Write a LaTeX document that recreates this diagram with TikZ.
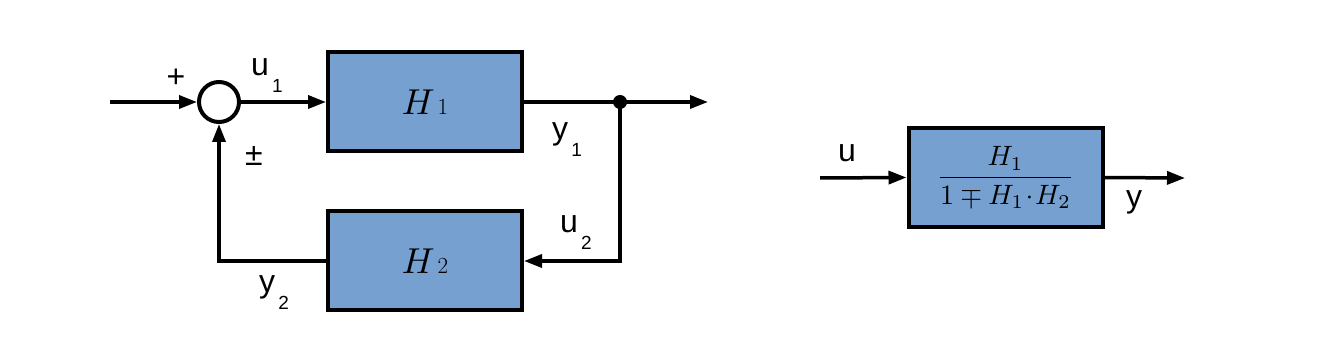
\documentclass[tikz,border=0pt]{standalone}
\usepackage{graphicx}
\usepackage{fontspec}
\setsansfont{Liberation Sans}
\usetikzlibrary{arrows.meta}
\definecolor{boxblue}{RGB}{118,160,208}
\newcommand{\lbl}[2]{\sffamily\fontsize{32}{34}\selectfont #1\raisebox{-17pt}{\fontsize{19}{20}\selectfont\,#2}}
\newcommand{\bigH}[1]{\scalebox{3.6}{$H$}\hspace{3pt}{\fontsize{23}{23}\selectfont #1}}
\tikzset{
  blk/.style={draw=black, line width=4pt, fill=boxblue, minimum width=194pt, minimum height=99pt, inner sep=0pt},
  conn/.style={line width=3.5pt},
  arr/.style={conn, -{Triangle[length=18pt,width=13pt]}},
  txt/.style={inner sep=0pt, font=\sffamily\fontsize{32}{34}\selectfont}
}
\begin{document}
\begin{tikzpicture}[x=1pt,y=1pt]
\useasboundingbox (0,0) rectangle (1330,342);
% left diagram
\node[draw=black, line width=4pt, circle, minimum size=40pt, inner sep=0pt, fill=white] (sum) at (219,240) {};
\node[blk] (H1) at (425,240) {\bigH{1}};
\node[blk] (H2) at (425,81) {\bigH{2}};
\coordinate (in) at (110,240);
\coordinate (out) at (708,240);
\node[circle, fill=black, minimum size=14pt, inner sep=0pt] (dot) at (620,240) {};
\coordinate (br) at (620,81);
\coordinate (bl) at (219,81);
\draw[arr] (in) -- (sum.west);
\draw[arr] (sum.east) -- (H1.west);
\draw[conn] (H1.east) -- (dot.center);
\draw[arr] (dot.center) -- (out);
\draw[arr] (dot.center) -- (br) -- (H2.east);
\draw[arr] (H2.west) -- (bl) -- (sum.south);
\node[txt, anchor=base west] (lu1) at (251,266) {\lbl{u}{1}};
\node[txt] (plus) at (176,264) {+};
\node[txt] (pm) at (254,186) {±};
\node[txt, anchor=base west] (ly1) at (552,202) {\lbl{y}{1}};
\node[txt, anchor=base west] (lu2) at (560,109) {\lbl{u}{2}};
\node[txt, anchor=base west] (ly2) at (259,49) {\lbl{y}{2}};
% right diagram
\node[blk, minimum height=99pt] (G) at (1005.5,164.5) {\scalebox{2.8}{$\displaystyle\frac{H_1}{1\mp H_1\!\cdot\! H_2}$}};
\coordinate (gin) at (820,164);
\coordinate (gout) at (1185,164);
\draw[arr] (gin) -- (G.west);
\draw[arr] (G.east) -- (gout);
\node[txt, anchor=base west] (lu) at (838,180) {u};
\node[txt, anchor=base west] (ly) at (1126,134) {y};
\end{tikzpicture}
\end{document}
